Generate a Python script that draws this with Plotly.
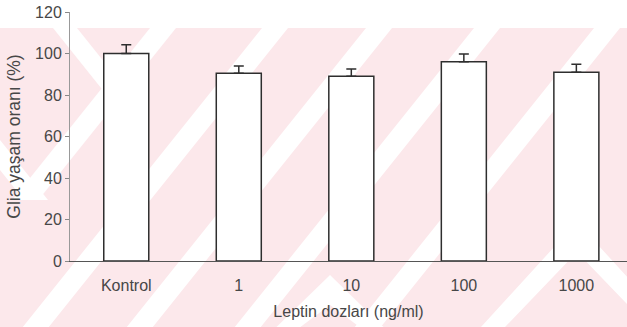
import plotly.graph_objects as go

categories = ["Kontrol", "1", "10", "100", "1000"]
survival = [100, 90.5, 89, 96, 91]
sem = [4.2, 3.5, 3.5, 3.8, 3.8]
y_ticks = [0, 20, 40, 60, 80, 100, 120]

W, H = 627, 327
L, R, T, B = 70, 627, 12, 261

def px(x):
    return (x - L) / (R - L)

def py(y):
    return (B - y) / (B - T)

def poly(pts):
    return "M " + " L ".join(f"{px(a):.4f},{py(b):.4f}" for a, b in pts) + " Z"

K = 1.25  # slope of watermark stripes (dy/dx in pixels)

def fwd(x0, w, y0=28, y1=H):
    # "/" stripe, left edge at x0 when y=y0
    return poly([(x0, y0), (x0 + w, y0), (x0 + w - (y1 - y0) / K, y1), (x0 - (y1 - y0) / K, y1)])

def bwd(x0, w, y0=28, y1=H):
    # "\" stripe
    return poly([(x0, y0), (x0 + w, y0), (x0 + w + (y1 - y0) / K, y1), (x0 + (y1 - y0) / K, y1)])

def chevron(ax, ay, w, y1=H):
    d = (y1 - ay) / K
    return poly([(ax, ay), (ax + d + w / 2, y1), (ax + d - w / 2, y1), (ax, ay + w * K),
                 (ax - d + w / 2, y1), (ax - d - w / 2, y1)])

pink = "#fce8eb"
shapes = [dict(type="rect", xref="paper", yref="paper", x0=px(0), x1=px(W), y0=py(28), y1=py(H),
               fillcolor=pink, line=dict(width=0), layer="below")]
white_paths = [fwd(150, 26, 28, 200), fwd(262, 26), fwd(366, 26), fwd(474, 26), fwd(594, 26),
               bwd(53, 24, 28, 110), bwd(-40, 24, 120, 200),
               chevron(577, 222, 24), chevron(330, 275, 24)]
for p in white_paths:
    shapes.append(dict(type="path", xref="paper", yref="paper", path=p,
                       fillcolor="white", line=dict(width=0), layer="below"))

fig = go.Figure(go.Bar(
    x=categories, y=survival, width=0.4,
    marker=dict(color="white", line=dict(color="#2e2e2e", width=1.5)),
    error_y=dict(type="data", array=sem, arrayminus=[0] * len(sem), symmetric=False,
                 color="#2e2e2e", thickness=1.5, width=5),
))

font = dict(family="Liberation Sans, Arial, sans-serif", color="#474747")
fig.update_layout(
    width=W, height=H, margin=dict(l=L, r=W - R, t=T, b=H - B),
    paper_bgcolor="white", plot_bgcolor="rgba(0,0,0,0)",
    showlegend=False, shapes=shapes, font=font,
    xaxis=dict(range=[-0.5, 4.45], showgrid=False, ticks="", showline=True,
               linecolor="#555555", linewidth=1, tickfont=dict(size=16),
               ticklabelstandoff=10,
               title=dict(text="Leptin dozları (ng/ml)", font=dict(size=16), standoff=12)),
    yaxis=dict(range=[0, 120], tickvals=y_ticks, showgrid=False, zeroline=False,
               ticks="outside", ticklen=4, tickcolor="#888888", showline=True,
               linecolor="#999999", linewidth=1, tickfont=dict(size=16),
               title=dict(text="Glia yaşam oranı (%)", font=dict(size=17.5), standoff=9)),
)

fig.write_html("out.html")
